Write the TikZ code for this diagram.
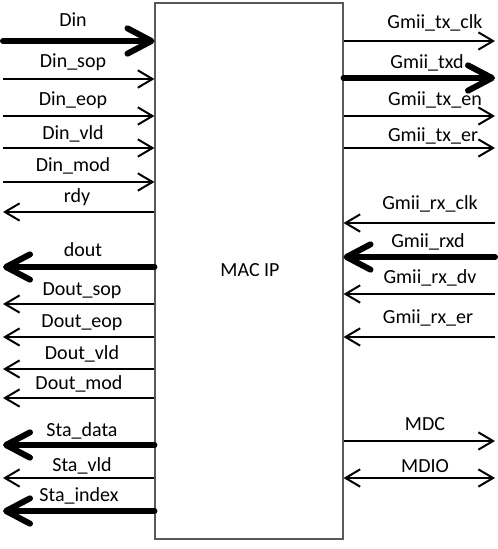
\documentclass[tikz,border=0pt]{standalone}
\usepackage{fontspec}
\setmainfont{Carlito}
\usetikzlibrary{arrows.meta}
\begin{document}
\begin{tikzpicture}[x=0.75pt,y=-0.75pt,
  lbl/.style={inner sep=0pt, font=\fontsize{15}{18}\selectfont},
  thin/.style={line width=1.5pt, -{Straight Barb[length=11pt,width=13pt,line width=1.5pt]}},
  thinboth/.style={line width=1.5pt, {Straight Barb[length=11pt,width=13pt,line width=1.5pt]}-{Straight Barb[length=11pt,width=13pt,line width=1.5pt]}},
  bold/.style={line width=4.5pt, line cap=round, -{Straight Barb[length=18pt,width=19pt,line width=4.5pt,round]}},
  box/.style={draw=black!65, line width=0.8pt, minimum width=141pt, minimum height=402pt, inner sep=0pt}]
\useasboundingbox (0,0) rectangle (498,549);
\node[box] (mac) at (249,271) {};
\node[lbl] (title) at (250,270) {MAC IP};
% left free ends
\coordinate (lDin) at (3,41);
\coordinate (lDinsop) at (3,79);
\coordinate (lDineop) at (3,116);
\coordinate (lDinvld) at (3,148);
\coordinate (lDinmod) at (3,182);
\coordinate (lrdy) at (3,212);
\coordinate (ldout) at (3,267);
\coordinate (lDoutsop) at (3,304);
\coordinate (lDouteop) at (3,337);
\coordinate (lDoutvld) at (3,369);
\coordinate (lDoutmod) at (3,398);
\coordinate (lStadata) at (3,445);
\coordinate (lStavld) at (3,478);
\coordinate (lStaindex) at (3,511);
% right free ends
\coordinate (rtxclk) at (495,41);
\coordinate (rtxd) at (495,78);
\coordinate (rtxen) at (495,116);
\coordinate (rtxer) at (495,148);
\coordinate (rrxclk) at (495,223);
\coordinate (rrxd) at (495,257);
\coordinate (rrxdv) at (495,294);
\coordinate (rrxer) at (495,337);
\coordinate (rMDC) at (495,441);
\coordinate (rMDIO) at (495,478);
% left connectors
\draw[bold] (lDin) -- (mac.west |- lDin);
\draw[thin] (lDinsop) -- (mac.west |- lDinsop);
\draw[thin] (lDineop) -- (mac.west |- lDineop);
\draw[thin] (lDinvld) -- (mac.west |- lDinvld);
\draw[thin] (lDinmod) -- (mac.west |- lDinmod);
\draw[thin] (mac.west |- lrdy) -- (lrdy);
\draw[bold] (mac.west |- ldout) -- (ldout);
\draw[thin] (mac.west |- lDoutsop) -- (lDoutsop);
\draw[thin] (mac.west |- lDouteop) -- (lDouteop);
\draw[thin] (mac.west |- lDoutvld) -- (lDoutvld);
\draw[thin] (mac.west |- lDoutmod) -- (lDoutmod);
\draw[bold] (mac.west |- lStadata) -- (lStadata);
\draw[thin] (mac.west |- lStavld) -- (lStavld);
\draw[bold] (mac.west |- lStaindex) -- (lStaindex);
% right connectors
\draw[thin] (mac.east |- rtxclk) -- (rtxclk);
\draw[bold] (mac.east |- rtxd) -- (rtxd);
\draw[thin] (mac.east |- rtxen) -- (rtxen);
\draw[thin] (mac.east |- rtxer) -- (rtxer);
\draw[thin] (rrxclk) -- (mac.east |- rrxclk);
\draw[bold] (rrxd) -- (mac.east |- rrxd);
\draw[thin] (rrxdv) -- (mac.east |- rrxdv);
\draw[thin] (rrxer) -- (mac.east |- rrxer);
\draw[thin] (mac.east |- rMDC) -- (rMDC);
\draw[thinboth] (mac.east |- rMDIO) -- (rMDIO);
% left labels
\node[lbl] (tDin) at (73,20) {Din};
\node[lbl] (tDinsop) at (73,62) {Din\_sop};
\node[lbl] (tDineop) at (73,100) {Din\_eop};
\node[lbl] (tDinvld) at (73,134) {Din\_vld};
\node[lbl] (tDinmod) at (73,166) {Din\_mod};
\node[lbl] (trdy) at (77,197) {rdy};
\node[lbl] (tdout) at (83,250) {dout};
\node[lbl] (tDoutsop) at (82,291) {Dout\_sop};
\node[lbl] (tDouteop) at (82,323) {Dout\_eop};
\node[lbl] (tDoutvld) at (82,354) {Dout\_vld};
\node[lbl] (tDoutmod) at (79,384) {Dout\_mod};
\node[lbl] (tStadata) at (82,431) {Sta\_data};
\node[lbl] (tStavld) at (82,466) {Sta\_vld};
\node[lbl] (tStaindex) at (79,496) {Sta\_index};
% right labels
\node[lbl] (ttxclk) at (435,23) {Gmii\_tx\_clk};
\node[lbl] (ttxd) at (427,63) {Gmii\_txd};
\node[lbl] (ttxen) at (435,100) {Gmii\_tx\_en};
\node[lbl] (ttxer) at (433,136) {Gmii\_tx\_er};
\node[lbl] (trxclk) at (430,204) {Gmii\_rx\_clk};
\node[lbl] (trxd) at (428,242) {Gmii\_rxd};
\node[lbl] (trxdv) at (430,278) {Gmii\_rx\_dv};
\node[lbl] (trxer) at (428,318) {Gmii\_rx\_er};
\node[lbl] (tMDC) at (425,424) {MDC};
\node[lbl] (tMDIO) at (425,466) {MDIO};
\end{tikzpicture}
\end{document}
